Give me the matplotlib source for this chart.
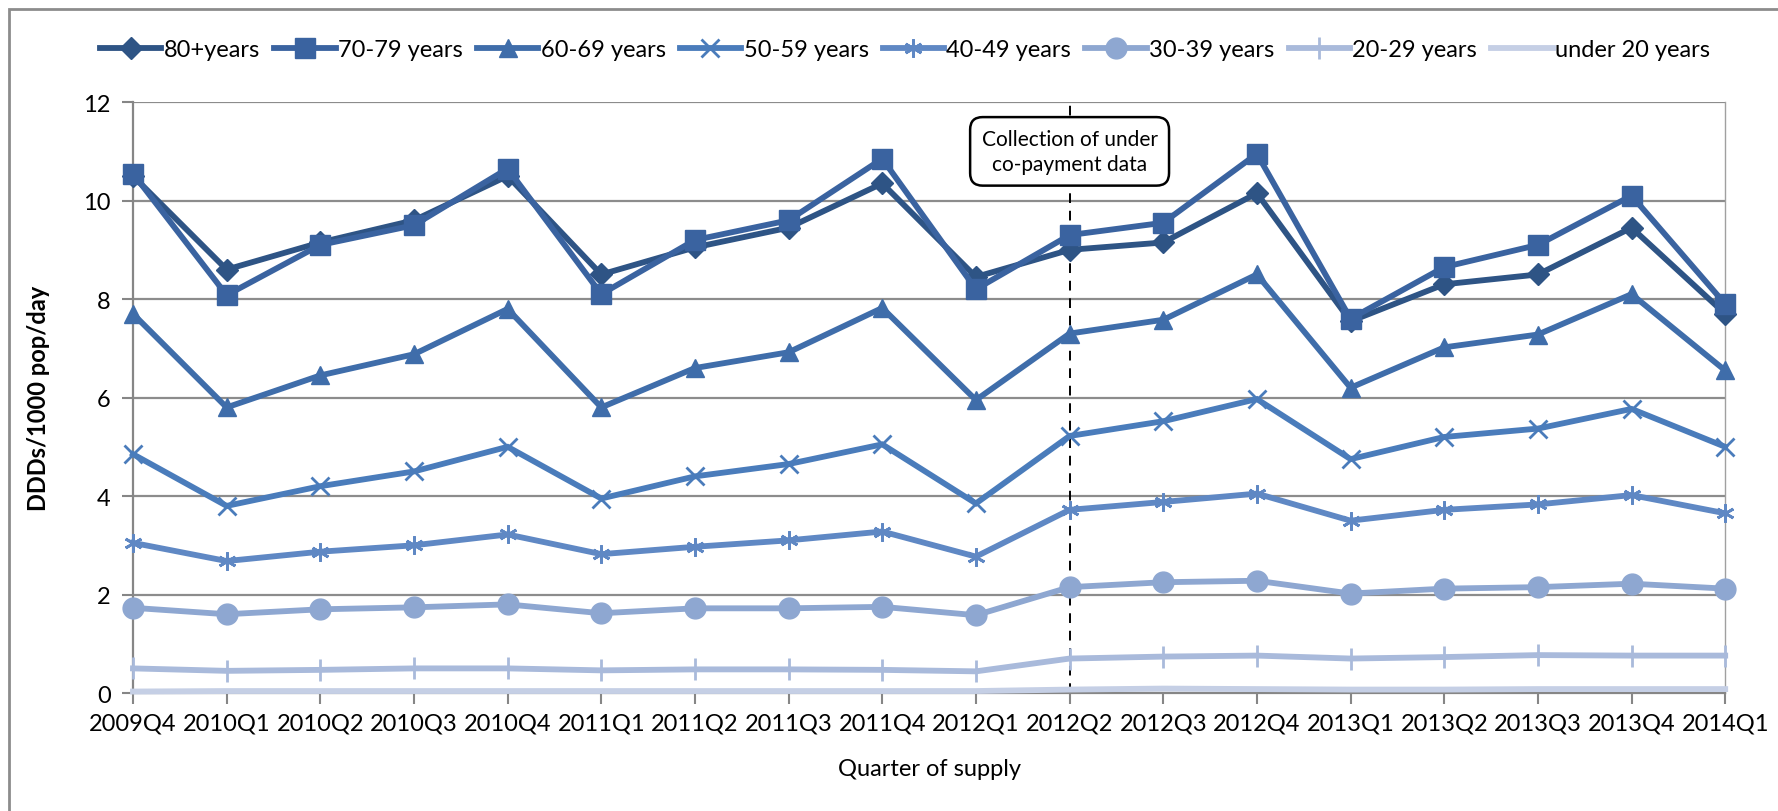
import matplotlib
matplotlib.use("Agg")
import matplotlib.pyplot as plt
from matplotlib.patches import Rectangle

quarters = ["2009Q4", "2010Q1", "2010Q2", "2010Q3", "2010Q4", "2011Q1", "2011Q2",
            "2011Q3", "2011Q4", "2012Q1", "2012Q2", "2012Q3", "2012Q4", "2013Q1",
            "2013Q2", "2013Q3", "2013Q4", "2014Q1"]

age_80_plus = [10.5, 8.6, 9.15, 9.6, 10.5, 8.5, 9.05, 9.45, 10.35, 8.45, 9.0, 9.15, 10.15, 7.55, 8.3, 8.5, 9.45, 7.7]
age_70_79 = [10.55, 8.08, 9.1, 9.5, 10.65, 8.1, 9.2, 9.6, 10.85, 8.2, 9.3, 9.55, 10.95, 7.6, 8.65, 9.1, 10.1, 7.9]
age_60_69 = [7.7, 5.8, 6.45, 6.88, 7.8, 5.8, 6.6, 6.92, 7.82, 5.95, 7.3, 7.58, 8.5, 6.2, 7.02, 7.28, 8.1, 6.55]
age_50_59 = [4.85, 3.8, 4.2, 4.5, 5.0, 3.95, 4.4, 4.65, 5.05, 3.85, 5.22, 5.52, 5.97, 4.75, 5.2, 5.37, 5.77, 5.0]
age_40_49 = [3.05, 2.68, 2.87, 3.0, 3.22, 2.82, 2.97, 3.1, 3.28, 2.77, 3.72, 3.88, 4.05, 3.5, 3.72, 3.83, 4.02, 3.65]
age_30_39 = [1.73, 1.6, 1.7, 1.74, 1.8, 1.62, 1.72, 1.72, 1.75, 1.58, 2.15, 2.25, 2.28, 2.02, 2.12, 2.15, 2.22, 2.12]
age_20_29 = [0.5, 0.45, 0.47, 0.5, 0.5, 0.46, 0.48, 0.48, 0.47, 0.44, 0.7, 0.74, 0.76, 0.7, 0.73, 0.77, 0.76, 0.76]
age_under_20 = [0.03, 0.04, 0.04, 0.04, 0.04, 0.04, 0.04, 0.04, 0.04, 0.04, 0.07, 0.09, 0.08, 0.07, 0.07, 0.08, 0.08, 0.08]

series_labels = ["80+years", "70-79 years", "60-69 years", "50-59 years",
                 "40-49 years", "30-39 years", "20-29 years", "under 20 years"]
series_values = [age_80_plus, age_70_79, age_60_69, age_50_59,
                 age_40_49, age_30_39, age_20_29, age_under_20]

colors = ["#2E5485", "#3A63A0", "#3F6DAA", "#4A7CBB", "#5F88C4", "#8EA7D1", "#A9BADB", "#C5CFE5"]
markers = ["D", "s", "^", "x", (6, 2, 0), "o", "|", None]
msizes = [11, 15, 13, 13, 13, 15, 16, 0]
medges = [1, 1, 1, 2, 2, 1, 2, 1]

plt.rcParams["font.family"] = ["Lato", "DejaVu Sans"]

fig = plt.figure(figsize=(17.78, 8.12), dpi=100)
ax = fig.add_axes([0.0748, 0.1453, 0.8955, 0.7277])

x = list(range(len(quarters)))
handles = []
for vals, lab, c, m, ms, me in zip(series_values, series_labels, colors, markers, msizes, medges):
    h, = ax.plot(x, vals, color=c, lw=4.2, marker=m, markersize=ms,
                 markeredgewidth=me, markeredgecolor=c, markerfacecolor=c,
                 solid_joinstyle="miter", label=lab, zorder=3, clip_on=False)
    handles.append(h)

ax.set_xlim(0, len(quarters) - 1)
ax.set_ylim(0, 12)
ax.set_yticks(range(0, 13, 2))
ax.set_xticks(x)
ax.set_xticklabels(quarters)
ax.tick_params(axis="both", labelsize=17, length=8, width=1.5, color="#868686", direction="out")
ax.tick_params(axis="x", pad=6)
ax.tick_params(axis="y", pad=8)
ax.grid(axis="y", color="#8C8C8C", lw=1.6, zorder=0)
ax.set_axisbelow(True)
for side in ["left", "bottom"]:
    ax.spines[side].set_color("#868686")
    ax.spines[side].set_linewidth(1.6)
ax.spines["top"].set_visible(False)
ax.spines["right"].set_color("#A0A0A0")
ax.spines["right"].set_linewidth(1.0)

ax.set_ylabel("DDDs/1000 pop/day", fontsize=17, fontweight="bold", labelpad=24)
ax.set_xlabel("Quarter of supply", fontsize=17, labelpad=18)

# policy change marker and its note
ax.axvline(10, ymin=0, ymax=1, color="black", lw=1.4, ls=(0, (5, 4)), zorder=2)
ax.text(10, 11.0, "Collection of under\nco-payment data", ha="center", va="center",
        fontsize=15, linespacing=1.35, zorder=5,
        bbox=dict(boxstyle="round,pad=0.55,rounding_size=0.6", fc="white", ec="black", lw=1.8))

leg = fig.legend(handles=handles, loc="center", bbox_to_anchor=(0.509, 0.938), ncol=8,
                 frameon=False, fontsize=17, handlelength=2.6, handletextpad=0.1,
                 columnspacing=0.6)

# outer chart frame
fig.add_artist(Rectangle((9 / 1778, -0.1), 1.2, 1.1 - 10 / 812, transform=fig.transFigure,
                         fill=False, ec="#8C8C8C", lw=2.0, clip_on=False))

fig.savefig("out.png", dpi=100)
